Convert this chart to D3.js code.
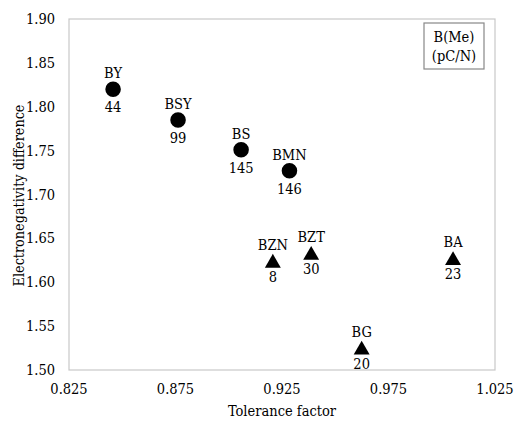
<!DOCTYPE html>
<html>
<head>
<meta charset="utf-8">
<script src="https://cdn.jsdelivr.net/npm/d3@7"></script>
<style>
  body { margin: 0; background: #fff; }
</style>
</head>
<body>
<svg id="chart" width="515" height="421"></svg>
<script>
// data
const names = ["BY", "BSY", "BS", "BMN", "BZN", "BZT", "BG", "BA"];
const tolerance = [0.8457, 0.8762, 0.9058, 0.9285, 0.9207, 0.9387, 0.9624, 1.0053];
const electroDiff = [1.820, 1.785, 1.751, 1.727, 1.623, 1.632, 1.524, 1.626];
const piezo = [44, 99, 145, 146, 8, 30, 20, 23];
const shapes = ["circle", "circle", "circle", "circle", "triangle", "triangle", "triangle", "triangle"];
const xTicks = [0.825, 0.875, 0.925, 0.975, 1.025];
const yTicks = [1.50, 1.55, 1.60, 1.65, 1.70, 1.75, 1.80, 1.85, 1.90];
const legendLines = ["B(Me)", "(pC/N)"];

const margin = { top: 19, right: 20, bottom: 51, left: 69 };
const width = 515, height = 421;
const fs = 14.5;
const svg = d3.select("#chart")
  .style("font-family", "\"DejaVu Serif Condensed\", \"DejaVu Serif\", serif")
  .style("font-stretch", "condensed");

const x = d3.scaleLinear().domain([0.825, 1.025]).range([margin.left, width - margin.right]);
const y = d3.scaleLinear().domain([1.50, 1.90]).range([height - margin.bottom, margin.top]);

// plot frame
svg.append("rect")
  .attr("x", x(0.825)).attr("y", y(1.90))
  .attr("width", x(1.025) - x(0.825)).attr("height", y(1.50) - y(1.90))
  .attr("fill", "none").attr("stroke", "#c8c8c8").attr("stroke-width", 1.2);

svg.append("g")
  .attr("font-size", fs).attr("text-anchor", "end")
  .selectAll("text").data(yTicks).join("text")
  .attr("x", 55).attr("y", d => y(d) + 5)
  .text(d => d.toFixed(2));

svg.append("g")
  .attr("font-size", fs).attr("text-anchor", "middle")
  .selectAll("text").data(xTicks).join("text")
  .attr("x", d => x(d)).attr("y", 394)
  .text(d => d.toFixed(3));

svg.append("text")
  .attr("font-size", fs).attr("text-anchor", "middle")
  .attr("x", (x(0.825) + x(1.025)) / 2).attr("y", 416)
  .text("Tolerance factor");

// y title: squeeze to the width the reference uses
const yTitle = svg.append("text")
  .attr("font-size", fs).attr("text-anchor", "middle")
  .text("Electronegativity difference");
const titleLen = yTitle.node().getComputedTextLength() || 182;
const k = Math.min(1, 182 / titleLen);
yTitle.attr("transform",
  `translate(24,${(y(1.5) + y(1.9)) / 2 + 1}) rotate(-90) scale(${k},1)`);

const pts = names.map((n, i) => ({
  name: n, tf: tolerance[i], ed: electroDiff[i], d33: piezo[i], shape: shapes[i]
}));

const circleSym = d3.symbol().type(d3.symbolCircle).size(190);
const triSym = d3.symbol().type(d3.symbolTriangle).size(110);

const g = svg.append("g").selectAll("g").data(pts).join("g")
  .attr("transform", d => `translate(${x(d.tf)},${y(d.ed)})`);

g.append("path")
  .attr("d", d => d.shape === "circle" ? circleSym() : triSym())
  .attr("transform", d => d.shape === "circle" ? null : "translate(0,1)")
  .attr("fill", "#000");

g.append("text")
  .attr("font-size", fs).attr("text-anchor", "middle")
  .attr("y", d => d.shape === "circle" ? -11 : -12)
  .text(d => d.name);

g.append("text")
  .attr("font-size", fs).attr("text-anchor", "middle")
  .attr("y", d => d.shape === "circle" ? 23 : 20)
  .text(d => d.d33);

// legend box
const lg = svg.append("g");
lg.append("rect")
  .attr("x", 424).attr("y", 23).attr("width", 60).attr("height", 46)
  .attr("fill", "#fff").attr("stroke", "#888").attr("stroke-width", 1.2);
lg.selectAll("text").data(legendLines).join("text")
  .attr("font-size", fs).attr("text-anchor", "middle")
  .attr("x", 454).attr("y", (d, i) => 42 + i * 19)
  .text(d => d);
</script>
</body>
</html>
